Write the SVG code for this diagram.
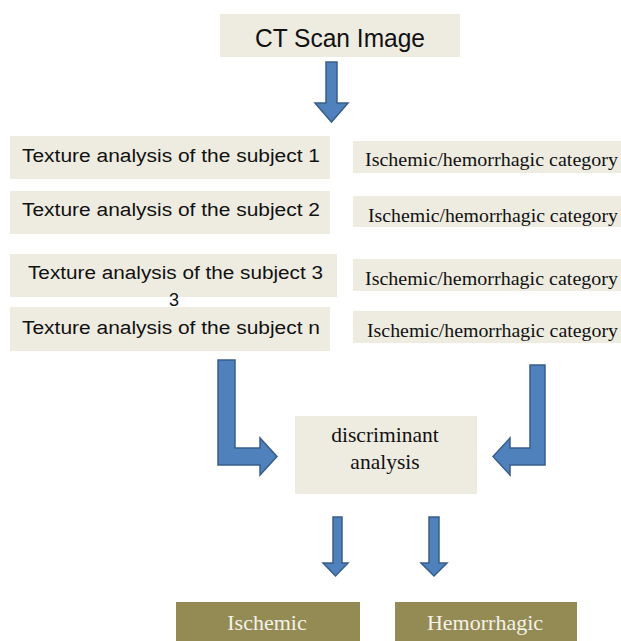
<svg xmlns="http://www.w3.org/2000/svg" width="621" height="641" viewBox="0 0 621 641">
<style>
.box{fill:#eeece1}
.dark{fill:#948a54}
.sans{font-family:"Liberation Sans","Open Sans",sans-serif;fill:#111}
.serif{font-family:"Liberation Serif","Times New Roman",serif;fill:#111}
.light{fill:#f4f2ea}
.arrow{fill:#4f81bd;stroke:#385d8a;stroke-width:1.5;stroke-linejoin:miter}
</style>
<rect width="621" height="641" fill="#fff"/>
<g id="ct">
<rect class="box" x="220" y="14" width="240" height="43"/>
<text class="sans" x="340" y="47" font-size="25" text-anchor="middle" textLength="170" lengthAdjust="spacingAndGlyphs">CT Scan Image</text>
</g>
<g id="tex1">
<rect class="box" x="10" y="136" width="320" height="43"/>
<text class="sans" x="22" y="162" font-size="18" textLength="298" lengthAdjust="spacingAndGlyphs">Texture analysis of the subject 1</text>
</g>
<g id="tex2">
<rect class="box" x="10" y="191" width="320" height="43"/>
<text class="sans" x="22" y="216" font-size="18" textLength="298" lengthAdjust="spacingAndGlyphs">Texture analysis of the subject 2</text>
</g>
<g id="tex3">
<rect class="box" x="10" y="254" width="327" height="43"/>
<text class="sans" x="28" y="279" font-size="18" textLength="295" lengthAdjust="spacingAndGlyphs">Texture analysis of the subject 3</text>
<text class="sans" x="174" y="306" font-size="18" text-anchor="middle">3</text>
</g>
<g id="texn">
<rect class="box" x="10" y="307" width="320" height="44"/>
<text class="sans" x="22" y="334" font-size="18" textLength="298" lengthAdjust="spacingAndGlyphs">Texture analysis of the subject n</text>
</g>
<g id="cat1">
<rect class="box" x="353" y="141" width="268" height="32"/>
<text class="serif" x="365" y="166" font-size="18.5" textLength="253" lengthAdjust="spacingAndGlyphs">Ischemic/hemorrhagic category</text>
</g>
<g id="cat2">
<rect class="box" x="353" y="196" width="268" height="31"/>
<text class="serif" x="368" y="222" font-size="18.5" textLength="250" lengthAdjust="spacingAndGlyphs">Ischemic/hemorrhagic category</text>
</g>
<g id="cat3">
<rect class="box" x="353" y="259" width="268" height="32"/>
<text class="serif" x="365" y="285" font-size="18.5" textLength="253" lengthAdjust="spacingAndGlyphs">Ischemic/hemorrhagic category</text>
</g>
<g id="cat4">
<rect class="box" x="353" y="311" width="268" height="32"/>
<text class="serif" x="367" y="337" font-size="18.5" textLength="251" lengthAdjust="spacingAndGlyphs">Ischemic/hemorrhagic category</text>
</g>
<g id="disc">
<rect class="box" x="295" y="416" width="182" height="78"/>
<text class="serif" x="385" y="442" font-size="21.5" text-anchor="middle">discriminant</text>
<text class="serif" x="385" y="469" font-size="21.5" text-anchor="middle">analysis</text>
</g>
<g id="isch">
<rect class="dark" x="176" y="602" width="184" height="45"/>
<text class="serif light" x="267" y="630" font-size="22" text-anchor="middle">Ischemic</text>
</g>
<g id="hem">
<rect class="dark" x="395" y="602" width="182" height="45"/>
<text class="serif light" x="485" y="630" font-size="22" text-anchor="middle">Hemorrhagic</text>
</g>
<g id="connectors">
<path class="arrow" d="M326,62 H337 V103 H348 L331.5,122 L315,103 H326 Z"/>
<path class="arrow" d="M218,360 H235 V448 H260 V438 L277,456.5 L260,475 V465 H218 Z"/>
<path class="arrow" d="M545,365 H530 V448 H510 V438 L493,456.5 L510,475 V465 H545 Z"/>
<path class="arrow" d="M333,517 H342 V563 H348 L335.5,576 L323,563 H333 Z"/>
<path class="arrow" d="M429,517 H439 V563 H447 L434,576 L421,563 H429 Z"/>
</g>
</svg>
